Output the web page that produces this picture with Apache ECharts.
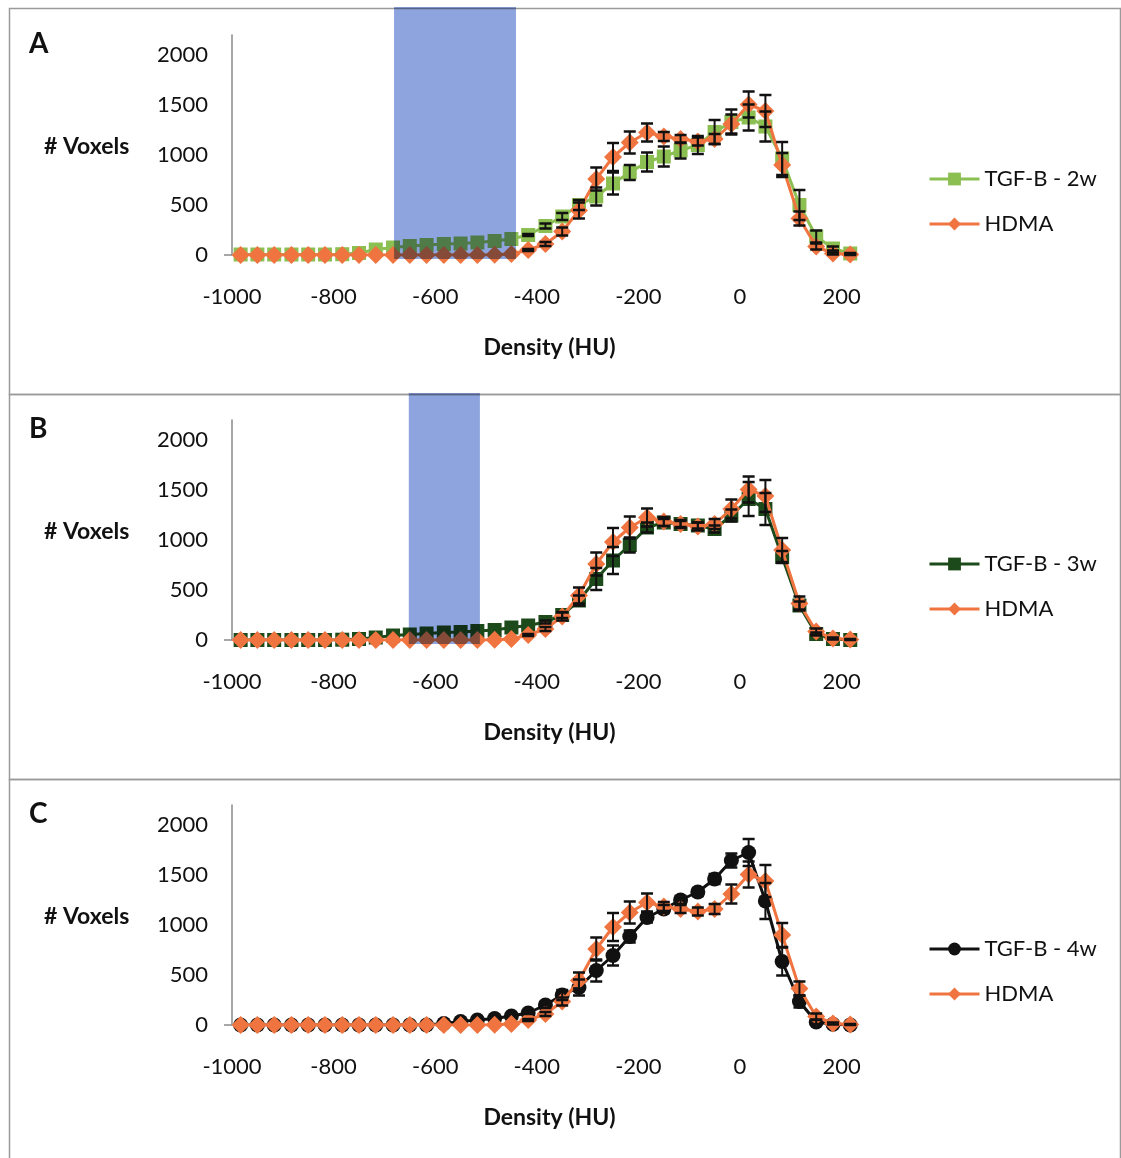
<!DOCTYPE html>
<html>
<head>
<meta charset="utf-8">
<script src="https://cdn.jsdelivr.net/npm/echarts@6/dist/echarts.min.js"></script>
<style>
  html, body { margin: 0; padding: 0; background: #ffffff; }
  #chart { width: 1121px; height: 1158px; }
</style>
</head>
<body>
<div id="chart"></div>
<script>
// Bin centres of the density histogram (HU)
const density = [-983, -950, -917, -883, -850, -817, -783, -750, -717, -683, -650, -617, -583,
  -550, -517, -483, -450, -417, -383, -350, -317, -283, -250, -217, -183, -150, -117, -83,
  -50, -17, 17, 50, 83, 117, 150, 183, 217];

// HDMA control (shown in every panel)
const hdma = [0, 0, 0, 0, 0, 0, 0, 0, 0, 0, 0, 0, 0, 0, 0, 3, 10, 50, 110, 235, 445, 760,
  980, 1125, 1225, 1185, 1160, 1135, 1160, 1310, 1505, 1440, 900, 365, 85, 15, 5];
const hdmaErr = [0, 0, 0, 0, 0, 0, 0, 0, 0, 0, 0, 0, 0, 0, 0, 0, 0, 10, 20, 40, 80, 115,
  140, 110, 90, 45, 40, 40, 50, 95, 130, 160, 120, 70, 30, 10, 5];

// TGF-B, 2 weeks
const tgf2w = [5, 5, 5, 5, 5, 5, 8, 20, 55, 75, 90, 100, 110, 115, 125, 140, 160, 200, 290,
  385, 500, 585, 715, 825, 930, 985, 1045, 1100, 1230, 1330, 1375, 1285, 965, 500, 185, 65, 15];
const tgf2wErr = [0, 0, 0, 0, 0, 0, 0, 0, 0, 0, 0, 0, 0, 0, 0, 0, 0, 10, 25, 35, 50, 90,
  110, 75, 95, 100, 80, 90, 120, 125, 130, 150, 165, 150, 60, 20, 5];

// TGF-B, 3 weeks
const tgf3w = [0, 0, 0, 0, 0, 0, 3, 10, 25, 45, 55, 65, 75, 80, 90, 100, 125, 145, 180,
  250, 395, 610, 795, 950, 1125, 1175, 1160, 1145, 1110, 1245, 1410, 1310, 830, 345, 60, 10, 0];
const tgf3wErr = [0, 0, 0, 0, 0, 0, 0, 0, 0, 0, 0, 0, 0, 0, 0, 0, 0, 0, 15, 30, 50, 110,
  135, 75, 50, 35, 30, 30, 35, 60, 170, 160, 60, 40, 15, 0, 0];

// TGF-B, 4 weeks
const tgf4w = [0, 0, 0, 0, 0, 0, 0, 0, 0, 0, 0, 0, 15, 35, 50, 65, 90, 120, 200, 300, 375,
  545, 695, 885, 1075, 1160, 1250, 1330, 1460, 1645, 1725, 1240, 635, 235, 30, 8, 0];
const tgf4wErr = [0, 0, 0, 0, 0, 0, 0, 0, 0, 0, 0, 0, 0, 0, 0, 0, 0, 10, 30, 50, 80, 110,
  100, 60, 50, 40, 40, 40, 50, 70, 135, 180, 140, 60, 20, 0, 0];

// Highlighted density ranges (HU)
const bandA = [-681, -441];
const bandB = [-652, -512];

// Axis settings
const xTicks = { min: -1000, max: 250, interval: 200 };
const yTicks = { min: 0, max: 2200, interval: 500 };

const FONT = 'Lato, "Open Sans", "Liberation Sans", sans-serif';
const HDMA_COLOR = '#ef7440';

const panels = [
  { letter: 'A', name: 'TGF-B - 2w', values: tgf2w, errors: tgf2wErr, color: '#8cbf52', symbol: 'rect', size: 14, band: bandA },
  { letter: 'B', name: 'TGF-B - 3w', values: tgf3w, errors: tgf3wErr, color: '#1d4a1a', symbol: 'rect', size: 14, band: bandB },
  { letter: 'C', name: 'TGF-B - 4w', values: tgf4w, errors: tgf4wErr, color: '#111111', symbol: 'circle', size: 15, band: null }
];

const panelTop = [6, 392, 777];
const panelHeight = [386, 385, 385];
const gridTop = [35, 420, 805];
const gridLeft = 232, gridWidth = 635, gridHeight = 220;

function pairs(values) {
  return density.map((d, i) => [d, values[i]]);
}
function errorData(values, errors) {
  const out = [];
  density.forEach((d, i) => {
    if (errors[i] > 0) out.push([d, values[i] - errors[i], values[i] + errors[i]]);
  });
  return out;
}
const plain = v => String(v);

function errorBarItem(params, api) {
  const x = api.value(0);
  const lo = api.coord([x, Math.max(api.value(1), 0)]);
  const hi = api.coord([x, api.value(2)]);
  const cap = 6;
  return {
    type: 'group',
    children: [
      { type: 'line', shape: { x1: hi[0], y1: hi[1], x2: lo[0], y2: lo[1] }, style: { stroke: '#111', lineWidth: 2 } },
      { type: 'line', shape: { x1: hi[0] - cap, y1: hi[1], x2: hi[0] + cap, y2: hi[1] }, style: { stroke: '#111', lineWidth: 2.5 } },
      { type: 'line', shape: { x1: lo[0] - cap, y1: lo[1], x2: lo[0] + cap, y2: lo[1] }, style: { stroke: '#111', lineWidth: 2.5 } }
    ]
  };
}

const grids = [], xAxes = [], yAxes = [], series = [], legends = [], graphics = [];

panels.forEach((p, k) => {
  grids.push({ left: gridLeft, top: gridTop[k], width: gridWidth, height: gridHeight });

  xAxes.push({
    gridIndex: k, type: 'value', min: xTicks.min, max: xTicks.max, interval: xTicks.interval,
    axisLine: { show: false }, axisTick: { show: false }, splitLine: { show: false },
    axisLabel: { fontSize: 22, color: '#111', margin: 31, fontFamily: FONT, showMaxLabel: false, formatter: plain },
    name: 'Density (HU)', nameLocation: 'middle', nameGap: 81,
    nameTextStyle: { fontSize: 23, fontWeight: 'bold', color: '#111', fontFamily: FONT }
  });

  yAxes.push({
    gridIndex: k, type: 'value', min: yTicks.min, max: yTicks.max, interval: yTicks.interval,
    axisLine: { show: true, onZero: false, lineStyle: { color: '#8a8a8a', width: 1.5 } },
    axisTick: { show: true, customValues: [0], length: 8, lineStyle: { color: '#8a8a8a', width: 1.5 } },
    axisLabel: { fontSize: 22, color: '#111', margin: 24, fontFamily: FONT, showMaxLabel: false, formatter: plain },
    splitLine: { show: true, showMaxLine: false, lineStyle: { color: '#8c8c8c', width: 1.5 } }
  });

  series.push({
    name: p.name, type: 'line', xAxisIndex: k, yAxisIndex: k, data: pairs(p.values),
    symbol: p.symbol, symbolSize: p.size, color: p.color,
    lineStyle: { width: 3, color: p.color }, itemStyle: { color: p.color },
    z: 2, animation: false
  });
  series.push({
    name: 'HDMA', type: 'line', xAxisIndex: k, yAxisIndex: k, data: pairs(hdma),
    symbol: 'diamond', symbolSize: 18, color: HDMA_COLOR,
    lineStyle: { width: 3, color: HDMA_COLOR }, itemStyle: { color: HDMA_COLOR },
    z: 3, animation: false
  });
  series.push({
    type: 'custom', xAxisIndex: k, yAxisIndex: k, renderItem: errorBarItem,
    data: errorData(p.values, p.errors), encode: { x: 0, y: [1, 2] }, z: 4, silent: true, animation: false
  });
  series.push({
    type: 'custom', xAxisIndex: k, yAxisIndex: k, renderItem: errorBarItem,
    data: errorData(hdma, hdmaErr), encode: { x: 0, y: [1, 2] }, z: 4, silent: true, animation: false
  });

  legends.push({
    data: [p.name, 'HDMA'], orient: 'vertical', left: 923, top: gridTop[k] + 128,
    itemWidth: 50, itemHeight: 16, itemGap: 23, selectedMode: false,
    lineStyle: { width: 3 },
    textStyle: { fontSize: 22, color: '#111', fontFamily: FONT }
  });

  graphics.push({
    type: 'rect', left: 7, top: panelTop[k], silent: true,
    shape: { width: 1111, height: panelHeight[k] },
    style: { fill: 'none', stroke: '#9a9a9a', lineWidth: 1.5 }
  });
  graphics.push({
    type: 'text', left: 29, top: gridTop[k] - 5,
    style: { text: p.letter, font: 'bold 28px ' + FONT, fill: '#111' }
  });
  graphics.push({
    type: 'text', left: 44, top: gridTop[k] + 100,
    style: { text: '# Voxels', font: 'bold 23px ' + FONT, fill: '#111' }
  });
});

const chart = echarts.init(document.getElementById('chart'), null, { renderer: 'canvas' });
chart.setOption({
  backgroundColor: '#ffffff',
  animation: false,
  grid: grids,
  xAxis: xAxes,
  yAxis: yAxes,
  legend: legends,
  graphic: graphics,
  series: series
});

// Shaded density ranges: placed through the axes' own scales, spanning from the
// panel's top edge to just under the zero line, tinted over what lies beneath.
const bands = [];
panels.forEach((p, k) => {
  if (!p.band) return;
  const x0 = chart.convertToPixel({ xAxisIndex: k }, p.band[0]);
  const x1 = chart.convertToPixel({ xAxisIndex: k }, p.band[1]);
  const yZero = chart.convertToPixel({ yAxisIndex: k }, 0);
  const top = panelTop[k] + 1;
  bands.push({
    type: 'rect', silent: true, z: 100,
    shape: { x: x0, y: top, width: x1 - x0, height: yZero + 4 - top },
    style: { fill: '#8ea4de', blend: 'multiply' }
  });
});
chart.setOption({ graphic: graphics.concat(bands) });
</script>
</body>
</html>
